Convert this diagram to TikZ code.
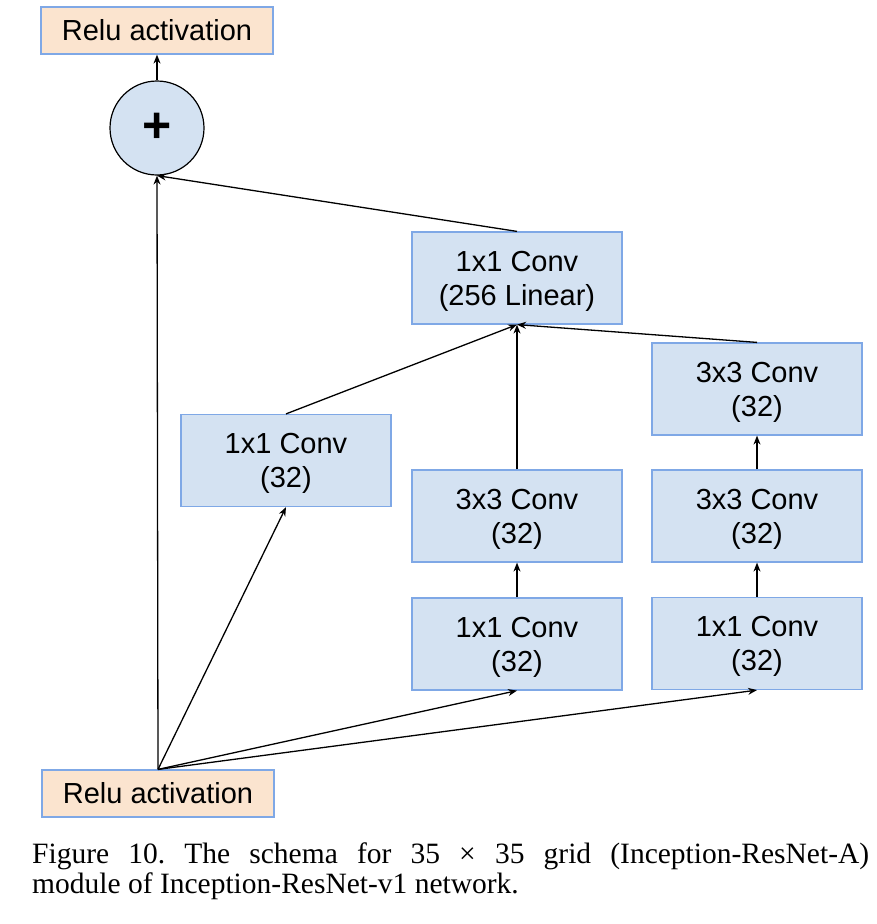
\documentclass[tikz,border=0pt]{standalone}
\usepackage{fontspec}
\setmainfont{Liberation Sans}
\newfontfamily\capfont{Liberation Serif}
\usetikzlibrary{arrows.meta}
\definecolor{boxblue}{HTML}{D4E2F2}
\definecolor{edgeblue}{HTML}{7FA8E6}
\definecolor{peach}{HTML}{FBE4CF}
\tikzset{
  convbox/.style={draw=edgeblue, fill=boxblue, line width=1.2pt, minimum width=210pt, minimum height=92pt, align=center, inner sep=0pt, text depth=0pt, font=\fontsize{29}{34}\selectfont},
  relubox/.style={draw=edgeblue, fill=peach, line width=1.2pt, minimum width=232pt, minimum height=47pt, align=center, inner sep=0pt, font=\fontsize{29}{34}\selectfont},
  plusnode/.style={circle, draw=black, fill=boxblue, line width=1.2pt, minimum size=94pt, inner sep=0pt},
  conn/.style={line width=1.3pt, -{Stealth[length=9pt,width=7pt]}},
  captext/.style={anchor=base west, inner sep=0pt, font=\capfont\fontsize{29.5}{30}\selectfont\frenchspacing}
}
\begin{document}
\begin{tikzpicture}[x=1pt,y=-1pt]
\useasboundingbox (0,0) rectangle (876,924);
\node[relubox] (rtop) at (157,30.5) {Relu activation};
\node[plusnode] (plus) at (157,128) {\fontsize{50}{50}\selectfont\bfseries +};
\node[convbox] (lin) at (517,278) {1x1 Conv\\(256 Linear)};
\node[convbox] (b1) at (286,460.5) {1x1 Conv\\(32)};
\node[convbox] (b2b) at (517,516) {3x3 Conv\\(32)};
\node[convbox] (b2a) at (517,644) {1x1 Conv\\(32)};
\node[convbox] (b3c) at (757,389) {3x3 Conv\\(32)};
\node[convbox] (b3b) at (757,516) {3x3 Conv\\(32)};
\node[convbox] (b3a) at (757,643.5) {1x1 Conv\\(32)};
\node[relubox] (rbot) at (158,793.5) {Relu activation};
\draw[conn] (plus.north) -- (rtop.south);
\draw[conn] (rbot.north) -- (plus.south);
\draw[conn] (lin.north) -- (plus.south);
\draw[conn] (rbot.north) -- (b1.south);
\draw[conn] (rbot.north) -- (b2a.south);
\draw[conn] (rbot.north) -- (b3a.south);
\draw[conn] (b1.north) -- (lin.south);
\draw[conn] (b2b.north) -- (lin.south);
\draw[conn] (b3c.north) -- (lin.south);
\draw[conn] (b2a.north) -- (b2b.south);
\draw[conn] (b3a.north) -- (b3b.south);
\draw[conn] (b3b.north) -- (b3c.south);
\node[captext] (cap1) at (32,863) {\makebox[837pt][s]{Figure 10. The schema for 35 × 35 grid (Inception-ResNet-A)}};
\node[captext] (cap2) at (32,893) {module of Inception-ResNet-v1 network.};
\end{tikzpicture}
\end{document}
